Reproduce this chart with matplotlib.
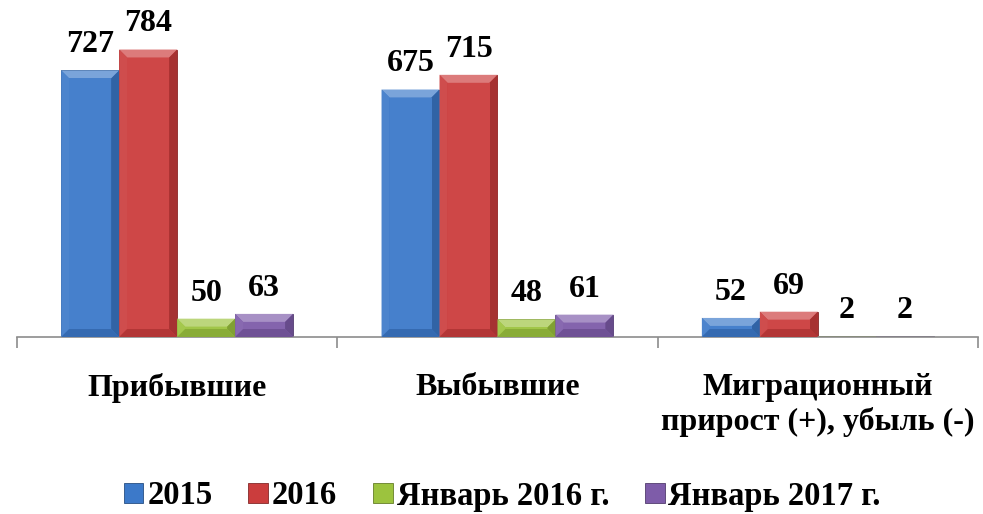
import matplotlib
matplotlib.use('Agg')
import matplotlib.pyplot as plt
from matplotlib.patches import Polygon, Patch
from matplotlib.transforms import IdentityTransform
import matplotlib.colors as mcolors
import numpy as np

plt.rcParams['font.family'] = ['Liberation Serif', 'DejaVu Serif']
plt.rcParams['font.weight'] = 'bold'

categories = ['Прибывшие', 'Выбывшие', 'Миграционный\nприрост (+), убыль (-)']
series_names = ['2015', '2016', 'Январь 2016 г.', 'Январь 2017 г.']
v2015 = [727, 675, 52]
v2016 = [784, 715, 69]
jan2016 = [50, 48, 2]
jan2017 = [63, 61, 2]
series = [v2015, v2016, jan2016, jan2017]
colors = ['#3C79C9', '#CB3D3D', '#9CC33E', '#7E5CA9']

DPI = 100
fig = plt.figure(figsize=(9.83, 5.14), dpi=DPI)
ax = fig.add_axes([17/983, (514-337)/514, 961/983, 330/514])

x = np.arange(len(categories))
bw = 0.181
offsets = (np.arange(len(series)) - (len(series)-1)/2) * bw


def shade(c, f):
    r, g, b = mcolors.to_rgb(c)
    if f >= 0:
        return (r + (1-r)*f, g + (1-g)*f, b + (1-b)*f)
    f = -f
    return (r*(1-f), g*(1-f), b*(1-f))


ax.set_xlim(-0.5, 2.5)
ax.set_ylim(0, 900)

bars_all = []
for vals, off, col in zip(series, offsets, colors):
    bars = ax.bar(x + off, vals, width=bw, color=col,
                  edgecolor=shade(col, -0.35), linewidth=0.6, zorder=2)
    bars_all.append((bars, col))
    for xi, v in zip(x + off, vals):
        ax.annotate(str(v), (xi, v), xytext=(0, 13), textcoords='offset points',
                    ha='center', va='baseline', fontsize=23, fontweight='bold',
                    color='black', zorder=5)

fig.canvas.draw()
for bars, col in bars_all:
    for rect in bars:
        x0, y0 = rect.get_x(), rect.get_y()
        w, h = rect.get_width(), rect.get_height()
        (L, B) = ax.transData.transform((x0, y0))
        (R, T) = ax.transData.transform((x0 + w, y0 + h))
        b = min(8.0, (T - B) / 2.0, (R - L) / 2.0)
        if b < 0.5:
            continue
        polys = [
            ([(L, T), (R, T), (R - b, T - b), (L + b, T - b)], shade(col, 0.32)),
            ([(L, B), (L, T), (L + b, T - b), (L + b, B + b)], shade(col, 0.08)),
            ([(R, B), (R, T), (R - b, T - b), (R - b, B + b)], shade(col, -0.18)),
            ([(L, B), (R, B), (R - b, B + b), (L + b, B + b)], shade(col, -0.12)),
        ]
        for pts, c in polys:
            ax.add_patch(Polygon(pts, closed=True, facecolor=c, edgecolor='none',
                                 transform=IdentityTransform(), zorder=3))
        ax.add_patch(Polygon([(L + b, T - b), (R - b, T - b), (R - b, B + b), (L + b, B + b)],
                             closed=True, facecolor=shade(col, 0.05), edgecolor='none',
                             transform=IdentityTransform(), zorder=3))

for s in ['top', 'right', 'left']:
    ax.spines[s].set_visible(False)
ax.spines['bottom'].set_color('#8C8C8C')
ax.spines['bottom'].set_linewidth(1.2)
ax.set_yticks([])
ax.set_xticks(x)
ax.set_xticklabels(categories, fontsize=23, fontweight='bold', linespacing=1.22)
ax.tick_params(axis='x', which='major', length=0, pad=26)
ax.set_xticks(np.arange(-0.5, 3.0, 1.0), minor=True)
ax.tick_params(axis='x', which='minor', length=8, width=1.2, color='#8C8C8C', direction='out')

handles = [Patch(facecolor=c, edgecolor=shade(c, -0.35), linewidth=0.6) for c in colors]
fig.legend(handles, series_names, loc='center', bbox_to_anchor=(0.511, 18/514),
           ncol=4, frameon=False, prop={'weight': 'bold', 'size': 23.5},
           handlelength=0.6, handleheight=0.6, handletextpad=0.12, columnspacing=1.1)

fig.savefig('out.png', dpi=DPI)
